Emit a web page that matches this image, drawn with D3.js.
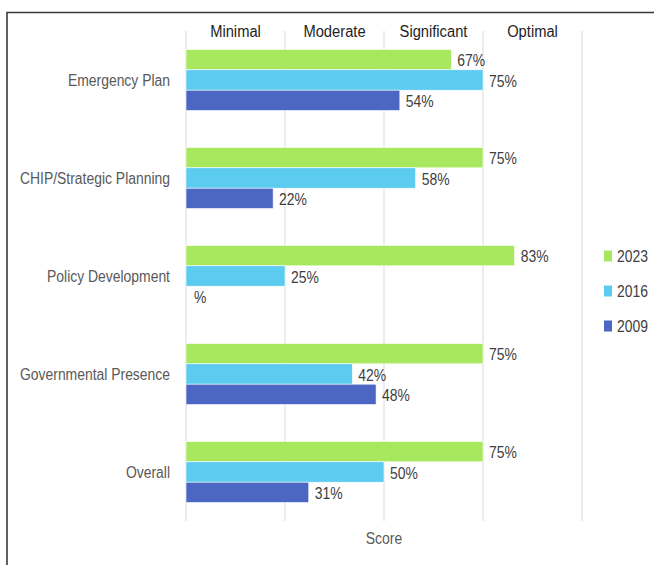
<!DOCTYPE html>
<html>
<head>
<meta charset="utf-8">
<script src="https://cdn.jsdelivr.net/npm/d3@7"></script>
<style>
  html, body { margin: 0; padding: 0; background: #fff; }
  svg { display: block; }
  text { font-family: "Liberation Sans", Arial, sans-serif; }
</style>
</head>
<body>
<svg id="chart" width="654" height="565"></svg>
<script>
const categories = ["Emergency Plan", "CHIP/Strategic Planning", "Policy Development", "Governmental Presence", "Overall"];
const seriesNames = ["2023", "2016", "2009"];
const values2023 = [67, 75, 83, 75, 75];
const values2016 = [75, 58, 25, 42, 50];
const values2009 = [54, 22, null, 48, 31];
const seriesColors = ["#A8E85F", "#5BCBF0", "#4C66C3"];
const levelLabels = ["Minimal", "Moderate", "Significant", "Optimal"];
const levelCenters = [12.5, 37.5, 62.5, 87.5];
const gridTicks = [0, 25, 50, 75, 100];
const axisTitle = "Score";

const seriesValues = [values2023, values2016, values2009];

const svg = d3.select("#chart");
const SQ = 0.87; // horizontal squeeze to mimic a narrow face

function place(sel, fx, fy, k) {
  sel.attr("x", 0).attr("y", 0)
     .attr("transform", (d, i) => `translate(${fx(d, i)},${fy(d, i)}) scale(${k},1)`);
  return sel;
}

// frame
svg.append("path")
  .attr("d", "M7,565V12.5H654")
  .attr("fill", "none")
  .attr("stroke", "#3a3a3a")
  .attr("stroke-width", 1.6);

const x = d3.scaleLinear().domain([0, 100]).range([186, 582]);
const y = d3.scaleBand().domain(categories).range([31, 521]).paddingInner(0.377).paddingOuter(0.1885);
const ySub = d3.scaleBand().domain(seriesNames).range([0, y.bandwidth()]);

// gridlines
svg.append("g").selectAll("line").data(gridTicks).join("line")
  .attr("x1", d => x(d)).attr("x2", d => x(d))
  .attr("y1", 31).attr("y2", 521)
  .attr("stroke", "#d9d9d9").attr("stroke-width", 1);

// top level labels
place(svg.append("g").selectAll("text").data(levelLabels).join("text"),
      (d, i) => x(levelCenters[i]), () => 37, 0.92)
  .attr("text-anchor", "middle")
  .attr("font-size", 16)
  .attr("fill", "#1e1e1e")
  .text(d => d);

// category labels
place(svg.append("g").selectAll("text").data(categories).join("text"),
      () => 170, d => y(d) + y.bandwidth() / 2, SQ)
  .attr("dy", "0.35em")
  .attr("text-anchor", "end")
  .attr("font-size", 16)
  .attr("fill", "#595959")
  .text(d => d);

// bars
const rows = [];
categories.forEach((c, ci) => {
  seriesNames.forEach((s, si) => {
    rows.push({ cat: c, series: s, color: seriesColors[si], value: seriesValues[si][ci] });
  });
});

svg.append("g").selectAll("rect").data(rows).join("rect")
  .attr("x", x(0))
  .attr("y", d => y(d.cat) + ySub(d.series))
  .attr("width", d => x(d.value || 0) - x(0))
  .attr("height", ySub.bandwidth())
  .attr("fill", d => d.color)
  .attr("stroke", "#ffffff")
  .attr("stroke-width", 0.6);

place(svg.append("g").selectAll("text").data(rows).join("text"),
      d => x(d.value || 0) + (d.value ? 6 : 8),
      d => y(d.cat) + ySub(d.series) + ySub.bandwidth() / 2 + 1, SQ)
  .attr("dy", "0.35em")
  .attr("font-size", 16)
  .attr("fill", "#404040")
  .text(d => (d.value == null ? "" : d.value) + "%");

// legend
const leg = svg.append("g");
seriesNames.forEach((s, i) => {
  const cy = 256 + i * 35;
  leg.append("rect").attr("x", 604).attr("y", cy - 5.5).attr("width", 8).attr("height", 11).attr("fill", seriesColors[i]);
  leg.append("text").attr("transform", `translate(617,${cy}) scale(${SQ},1)`).attr("dy", "0.35em")
    .attr("font-size", 16).attr("fill", "#404040").text(s);
});

// axis title
svg.append("text")
  .attr("transform", `translate(${x(50)},538) scale(${SQ},1)`).attr("dy", "0.35em")
  .attr("text-anchor", "middle")
  .attr("font-size", 16).attr("fill", "#595959")
  .text(axisTitle);
</script>
</body>
</html>
